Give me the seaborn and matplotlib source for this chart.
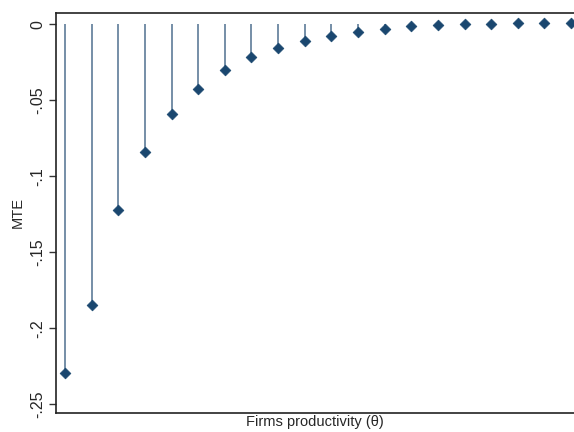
import numpy as np
import pandas as pd
import seaborn as sns
import matplotlib
matplotlib.use("Agg")
import matplotlib.pyplot as plt

# valeurs (MTE par niveau de productivité)
theta = np.arange(1, 21)
mte = [-0.2295, -0.1846, -0.1222, -0.0840, -0.0588, -0.0424, -0.0301, -0.0214,
       -0.0154, -0.0110, -0.0078, -0.0051, -0.0033, -0.0014, -0.0005, 0.0,
       0.0002, 0.0009, 0.0009, 0.0010]
yticks = [0, -0.05, -0.1, -0.15, -0.2, -0.25]
ylabels = ["0", "-.05", "-.1", "-.15", "-.2", "-.25"]

data = pd.DataFrame({"theta": theta, "mte": mte})

sns.set_style("ticks")
plt.rcParams["font.family"] = ["Liberation Sans", "DejaVu Sans"]

fig = plt.figure(figsize=(5.74, 4.32), dpi=100)
ax = fig.add_axes([0.0976, 0.0447, 0.9024, 0.926])

# tiges (dropline) puis losanges
ax.vlines(data["theta"], 0, data["mte"], color="#4f7090", linewidth=1.1, zorder=2)
sns.scatterplot(data=data, x="theta", y="mte", marker="D", s=30, color="#1a476f",
                edgecolor="#1a476f", linewidth=0.5, ax=ax, zorder=3)

ax.set_xlim(0.662, 20.11)
ax.set_ylim(-0.2554, 0.0076)
ax.set_xticks([])
ax.set_yticks(yticks)
ax.set_yticklabels(ylabels, rotation=90, va="center", fontsize=11.5)
ax.tick_params(axis="y", length=5, width=1, color="#333333", pad=3)

ax.set_xlabel("Firms productivity (θ)", fontsize=10.5, labelpad=2)
ax.set_ylabel("MTE", fontsize=10.5, labelpad=4)

for s in ["left", "bottom", "top"]:
    ax.spines[s].set_linewidth(1.2)
    ax.spines[s].set_color("#222222")
ax.spines["right"].set_visible(False)

plt.savefig("out.png", dpi=100)
